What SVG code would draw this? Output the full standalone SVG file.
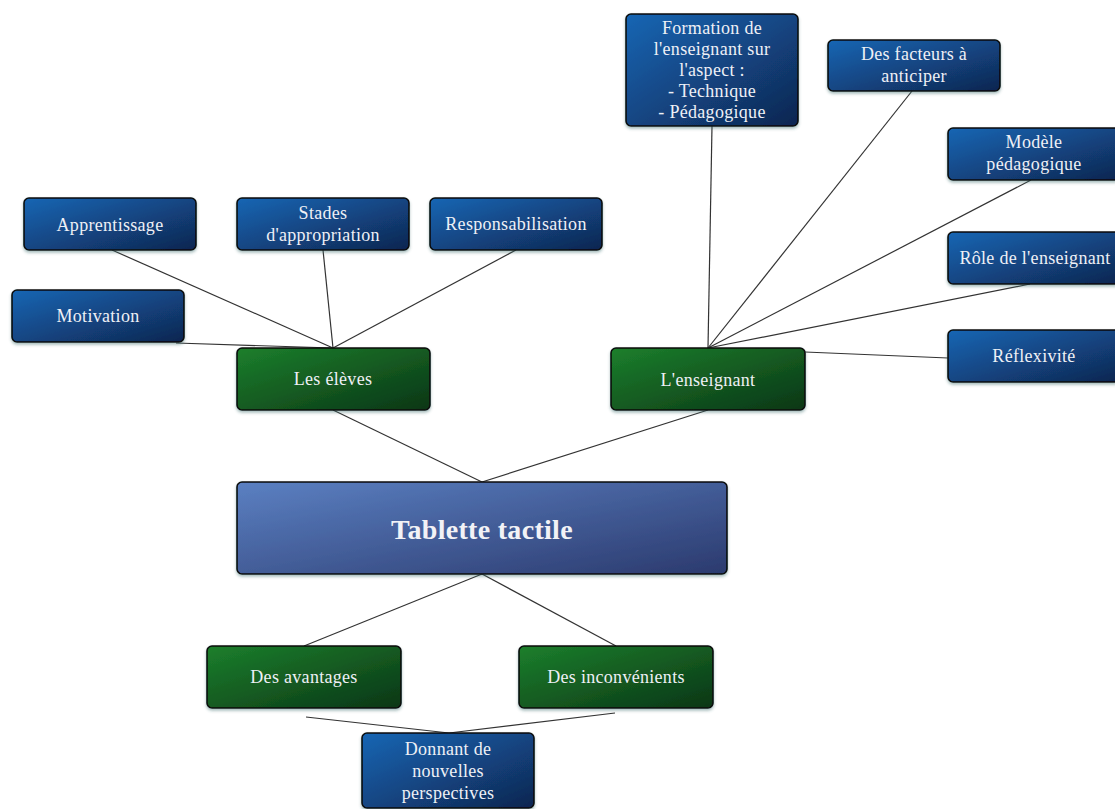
<svg xmlns="http://www.w3.org/2000/svg" width="1115" height="809" viewBox="0 0 1115 809">
  <defs>
    <linearGradient id="gBlue" x1="0" y1="0" x2="1" y2="1">
      <stop offset="0" stop-color="#1766b4"/>
      <stop offset="1" stop-color="#0f2550"/>
    </linearGradient>
    <linearGradient id="gGreen" x1="0" y1="0" x2="1" y2="1">
      <stop offset="0" stop-color="#1c7f2c"/>
      <stop offset="1" stop-color="#0b3616"/>
    </linearGradient>
    <linearGradient id="gMain" x1="0" y1="0" x2="1" y2="1">
      <stop offset="0" stop-color="#5b80c2"/>
      <stop offset="1" stop-color="#2b3a6e"/>
    </linearGradient>
    <filter id="shadow" x="-10%" y="-10%" width="120%" height="130%">
      <feDropShadow dx="0" dy="2" stdDeviation="1.5" flood-color="#3a6a6a" flood-opacity="0.45"/>
    </filter>
  </defs>
  <style>
    .box { stroke: #0a0a0a; stroke-width: 1.6; filter: url(#shadow); }
    .blue { fill: url(#gBlue); }
    .green { fill: url(#gGreen); }
    .main { fill: url(#gMain); }
    .lbl { font-family: "Liberation Serif", "DejaVu Serif", serif; font-size: 18px; letter-spacing: 0.3px; fill: #eef0f6; text-anchor: middle; }
    .title { font-family: "Liberation Serif", "DejaVu Serif", serif; font-size: 28px; font-weight: bold; letter-spacing: 0.3px; fill: #f2f2f6; text-anchor: middle; }
    .conn line { stroke: #333; stroke-width: 1.2; }
  </style>
  <rect width="1115" height="809" fill="#ffffff"/>

  <g class="conn" id="connectors">
    <line x1="482" y1="482" x2="333" y2="410"/>
    <line x1="482" y1="482" x2="708" y2="410"/>
    <line x1="482" y1="574" x2="304" y2="646"/>
    <line x1="482" y1="574" x2="616" y2="646"/>
    <line x1="306" y1="717" x2="449" y2="733"/>
    <line x1="615" y1="713" x2="449" y2="733"/>
    <line x1="333" y1="348" x2="112" y2="250"/>
    <line x1="333" y1="348" x2="323" y2="250"/>
    <line x1="333" y1="348" x2="516" y2="250"/>
    <line x1="333" y1="348" x2="176" y2="343"/>
    <line x1="708" y1="348" x2="712" y2="126"/>
    <line x1="708" y1="348" x2="912" y2="91"/>
    <line x1="708" y1="348" x2="1031" y2="180"/>
    <line x1="708" y1="348" x2="1030" y2="284"/>
    <line x1="805" y1="352" x2="948" y2="358"/>
  </g>

  <g id="tablette">
    <rect class="box main" x="237" y="482" width="490" height="92" rx="5"/>
    <text class="title" x="482" y="539">Tablette tactile</text>
  </g>

  <g id="eleves">
    <rect class="box green" x="237" y="348" width="193" height="62" rx="5"/>
    <text class="lbl" x="333" y="385">Les élèves</text>
  </g>
  <g id="enseignant">
    <rect class="box green" x="611" y="348" width="194" height="62" rx="5"/>
    <text class="lbl" x="708" y="386">L'enseignant</text>
  </g>
  <g id="avantages">
    <rect class="box green" x="207" y="646" width="194" height="62" rx="5"/>
    <text class="lbl" x="304" y="683">Des avantages</text>
  </g>
  <g id="inconvenients">
    <rect class="box green" x="519" y="646" width="194" height="62" rx="5"/>
    <text class="lbl" x="616" y="683">Des inconvénients</text>
  </g>

  <g id="perspectives">
    <rect class="box blue" x="362" y="733" width="172" height="75" rx="5"/>
    <text class="lbl" x="448" y="755">Donnant de</text>
    <text class="lbl" x="448" y="777">nouvelles</text>
    <text class="lbl" x="448" y="799">perspectives</text>
  </g>

  <g id="apprentissage">
    <rect class="box blue" x="24" y="198" width="172" height="52" rx="5"/>
    <text class="lbl" x="110" y="231">Apprentissage</text>
  </g>
  <g id="stades">
    <rect class="box blue" x="237" y="198" width="172" height="52" rx="5"/>
    <text class="lbl" x="323" y="219">Stades</text>
    <text class="lbl" x="323" y="241">d'appropriation</text>
  </g>
  <g id="responsabilisation">
    <rect class="box blue" x="430" y="198" width="172" height="52" rx="5"/>
    <text class="lbl" x="516" y="230">Responsabilisation</text>
  </g>
  <g id="motivation">
    <rect class="box blue" x="12" y="290" width="172" height="52" rx="5"/>
    <text class="lbl" x="98" y="322">Motivation</text>
  </g>

  <g id="formation">
    <rect class="box blue" x="626" y="14" width="172" height="112" rx="5"/>
    <text class="lbl" x="712" y="34">Formation de</text>
    <text class="lbl" x="712" y="55">l'enseignant sur</text>
    <text class="lbl" x="712" y="76">l'aspect :</text>
    <text class="lbl" x="712" y="97">- Technique</text>
    <text class="lbl" x="712" y="118">- Pédagogique</text>
  </g>
  <g id="facteurs">
    <rect class="box blue" x="828" y="40" width="172" height="51" rx="5"/>
    <text class="lbl" x="914" y="60">Des facteurs à</text>
    <text class="lbl" x="914" y="82">anticiper</text>
  </g>
  <g id="modele">
    <rect class="box blue" x="948" y="128" width="172" height="52" rx="5"/>
    <text class="lbl" x="1034" y="148">Modèle</text>
    <text class="lbl" x="1034" y="170">pédagogique</text>
  </g>
  <g id="role">
    <rect class="box blue" x="948" y="232" width="172" height="52" rx="5"/>
    <text class="lbl" x="1035" y="264">Rôle de l'enseignant</text>
  </g>
  <g id="reflexivite">
    <rect class="box blue" x="948" y="330" width="172" height="52" rx="5"/>
    <text class="lbl" x="1034" y="362">Réflexivité</text>
  </g>
</svg>
